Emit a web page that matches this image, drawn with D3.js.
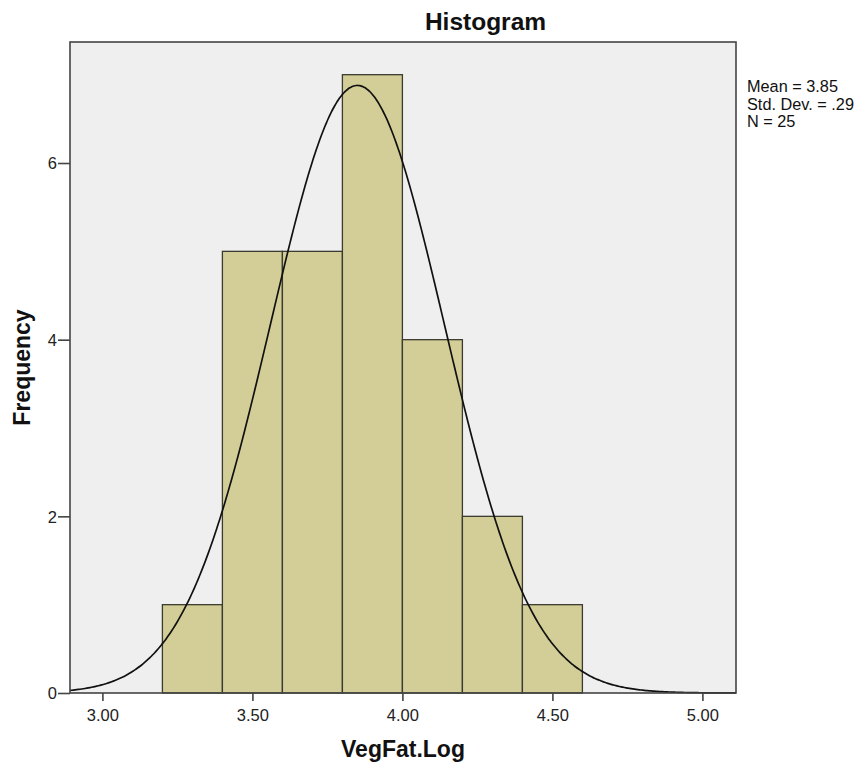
<!DOCTYPE html>
<html><head><meta charset="utf-8">
<script src="https://cdn.jsdelivr.net/npm/d3@7"></script>
<style>body{margin:0;background:#fff}svg{display:block}text{font-family:"Liberation Sans",Arial,sans-serif}</style>
</head><body><svg id="c" width="862" height="767"></svg>
<script>
const binStarts = [3.2, 3.4, 3.6, 3.8, 4.0, 4.2, 4.4];
const binWidth = 0.2;
const counts = [1, 5, 5, 7, 4, 2, 1];
const xTicks = [3.0, 3.5, 4.0, 4.5, 5.0];
const yTicks = [0, 2, 4, 6];
const stats = {mean: 3.85, sd: 0.29, n: 25};
const legendLines = ["Mean = 3.85", "Std. Dev. = .29", "N = 25"];

const svg = d3.select("#c");
const L = 70, R = 736, T = 42, B = 693;
const x = d3.scaleLinear().domain([2.892, 5.112]).range([L, R]);
const y = d3.scaleLinear().domain([0, 7.37]).range([B, T]);

svg.append("rect").attr("x", L).attr("y", T).attr("width", R - L).attr("height", B - T).attr("fill", "#efefef");

svg.selectAll("rect.bar").data(binStarts).enter().append("rect").attr("class", "bar")
  .attr("x", d => x(d)).attr("width", d => x(d + binWidth) - x(d))
  .attr("y", (d, i) => y(counts[i])).attr("height", (d, i) => y(0) - y(counts[i]))
  .attr("fill", "#d3ce97").attr("stroke", "#3b3b30").attr("stroke-width", 1.3);

// fitted normal curve from the reported mean / SD
const pdf = v => stats.n * binWidth / (stats.sd * Math.sqrt(2 * Math.PI)) * Math.exp(-0.5 * Math.pow((v - stats.mean) / stats.sd, 2));
const xs = d3.range(0, 401).map(i => x.domain()[0] + i * (x.domain()[1] - x.domain()[0]) / 400);
svg.append("path").datum(xs).attr("fill", "none").attr("stroke", "#111").attr("stroke-width", 1.7)
  .attr("d", d3.line().x(d => x(d)).y(d => y(pdf(d))).curve(d3.curveBasis));

// frame
svg.append("rect").attr("x", L).attr("y", T).attr("width", R - L).attr("height", B - T)
  .attr("fill", "none").attr("stroke", "#444").attr("stroke-width", 1.6);

// axes
const xa = svg.append("g").attr("transform", `translate(0,${B})`)
  .call(d3.axisBottom(x).tickValues(xTicks).tickFormat(d3.format(".2f")).tickSize(8).tickSizeOuter(0));
const ya = svg.append("g").attr("transform", `translate(${L},0)`)
  .call(d3.axisLeft(y).tickValues(yTicks).tickFormat(d3.format("d")).tickSize(12).tickSizeOuter(0));
[xa, ya].forEach(g => {
  g.select(".domain").remove();
  g.selectAll("line").attr("stroke", "#444").attr("stroke-width", 1.6);
  g.selectAll("text").attr("font-size", 16.5).attr("fill", "#222").attr("font-family", "Liberation Sans, Arial, sans-serif");
});
xa.selectAll("text").attr("dy", "1.06em");
ya.selectAll("text").attr("x", -13).attr("dy", "0.36em");

svg.append("text").attr("x", 485.5).attr("y", 30).attr("text-anchor", "middle")
  .attr("font-size", 24.5).attr("font-weight", "bold").attr("fill", "#111").text("Histogram");
svg.append("text").attr("x", (L + R) / 2).attr("y", 757).attr("text-anchor", "middle")
  .attr("font-size", 23).attr("font-weight", "bold").attr("fill", "#111").text("VegFat.Log");
svg.append("text").attr("transform", `translate(30,${(T + B) / 2}) rotate(-90)`).attr("text-anchor", "middle")
  .attr("font-size", 23).attr("font-weight", "bold").attr("fill", "#111").text("Frequency");

svg.selectAll("text.leg").data(legendLines).enter().append("text").attr("class", "leg")
  .attr("x", 747).attr("y", (d, i) => 92 + i * 17.7).attr("font-size", 16.3).attr("fill", "#111").text(d => d);
</script></body></html>
